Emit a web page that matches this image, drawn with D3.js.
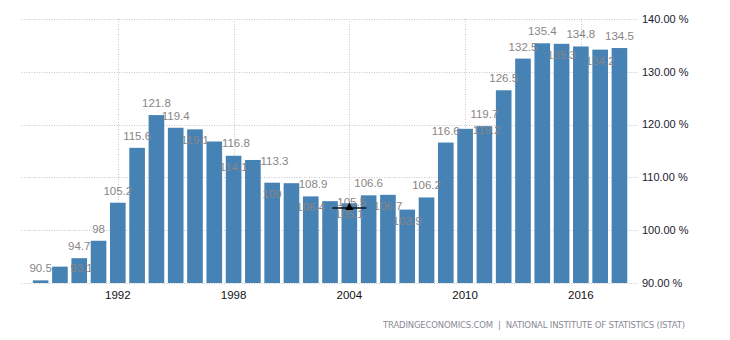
<!DOCTYPE html>
<html>
<head>
<meta charset="utf-8">
<script src="https://cdn.jsdelivr.net/npm/d3@7"></script>
<style>
  html, body { margin: 0; padding: 0; background: #fff; }
  svg { display: block; }
</style>
</head>
<body>
<svg id="chart" width="730" height="340"></svg>
<script>
const years = [1988,1989,1990,1991,1992,1993,1994,1995,1996,1997,1998,1999,2000,2001,2002,2003,2004,2005,2006,2007,2008,2009,2010,2011,2012,2013,2014,2015,2016,2017,2018];
const values = [90.5,93.1,94.7,98,105.2,115.6,121.8,119.4,119.1,116.8,114.1,113.3,109,108.9,106.4,105.5,105.1,106.6,106.7,103.9,106.2,116.6,119.2,119.7,126.5,132.5,135.4,135.3,134.8,134.2,134.5];
// label placement: a = above, b = below top, s = shifted right beside
const labelPlacement = ['a','s','a','a','a','a','a','a','b','s','b','s','b','s','b','s','b','a','b','b','a','a','s','a','a','a','a','b','a','b','a'];
const yTicks = [90,100,110,120,130,140];
const xTickYears = [1992,1998,2004,2010,2016];
const markerYear = [2004];
const markerValue = [104.2];
const sourceText = "TRADINGECONOMICS.COM  |  NATIONAL INSTITUTE OF STATISTICS (ISTAT)";

const svg = d3.select("#chart");
const x = d3.scaleBand().domain(years).range([31, 629.1]).paddingInner(0.19).paddingOuter(0.095);
const y = d3.scaleLinear().domain([90, 140]).range([283, 19]);
const gridLeft = 21.5, gridRight = 639;
const font = "Arial, 'Liberation Sans', sans-serif";

// horizontal grid
svg.append("g").selectAll("line").data(yTicks).join("line")
  .attr("x1", gridLeft).attr("x2", gridRight)
  .attr("y1", d => Math.round(y(d)) + 0.5).attr("y2", d => Math.round(y(d)) + 0.5)
  .attr("stroke", "#c8c8c8").attr("stroke-width", 1).attr("stroke-dasharray", "1,1.5");

// vertical grid
svg.append("g").selectAll("line").data(xTickYears).join("line")
  .attr("x1", d => Math.round(x(d) + x.bandwidth()/2) + 0.5)
  .attr("x2", d => Math.round(x(d) + x.bandwidth()/2) + 0.5)
  .attr("y1", y(140)).attr("y2", y(90))
  .attr("stroke", "#c8c8c8").attr("stroke-width", 1).attr("stroke-dasharray", "1,1.5");

// bars
svg.append("g").selectAll("rect").data(years).join("rect")
  .attr("x", d => x(d))
  .attr("width", x.bandwidth())
  .attr("y", (d, i) => y(values[i]))
  .attr("height", (d, i) => y(90) - y(values[i]))
  .attr("fill", "#4682b4");

// value labels
svg.append("g").selectAll("text").data(years).join("text")
  .attr("x", (d, i) => x(d) + x.bandwidth()/2 + (labelPlacement[i] === 's' ? x.step() * 1.12 : 0))
  .attr("y", (d, i) => y(values[i]) + (labelPlacement[i] === 'a' ? -12 : labelPlacement[i] === 'b' ? 11 : 1))
  .attr("dy", "0.35em")
  .attr("text-anchor", "middle")
  .attr("font-family", font)
  .attr("font-size", "11.5px")
  .attr("fill", "#8a8585")
  .text((d, i) => String(values[i]));

// marker
const mg = svg.append("g");
markerYear.forEach((yr, i) => {
  const cx = x(yr) + x.bandwidth()/2;
  const cy = y(markerValue[i]);
  mg.append("line").attr("x1", cx - 17).attr("x2", cx + 17).attr("y1", cy).attr("y2", cy)
    .attr("stroke", "#111").attr("stroke-width", 1.5);
  mg.append("path").attr("d", d3.symbol(d3.symbolTriangle, 30)())
    .attr("transform", `translate(${cx},${cy - 0.5})`).attr("fill", "#000");
});

// y axis labels
svg.append("g").selectAll("text").data(yTicks).join("text")
  .attr("x", 642).attr("y", d => y(d)).attr("dy", "0.35em")
  .attr("font-family", font)
  .attr("font-size", "11px").attr("fill", "#1a1a2e")
  .text(d => d3.format(".2f")(d) + " %");

// x axis labels
svg.append("g").selectAll("text").data(xTickYears).join("text")
  .attr("x", d => x(d) + x.bandwidth()/2).attr("y", 294.5).attr("dy", "0.35em")
  .attr("text-anchor", "middle")
  .attr("font-family", font)
  .attr("font-size", "11.5px").attr("fill", "#111")
  .text(d => d);

// source
svg.append("text").attr("x", 383).attr("y", 325).attr("dy", "0.35em")
  .attr("font-family", "'DejaVu Sans', Verdana, sans-serif")
  .attr("font-size", "8.5px").attr("fill", "#8a8a95")
  .attr("textLength", 302).attr("lengthAdjust", "spacing")
  .attr("xml:space", "preserve")
  .text(sourceText);
</script>
</body>
</html>
